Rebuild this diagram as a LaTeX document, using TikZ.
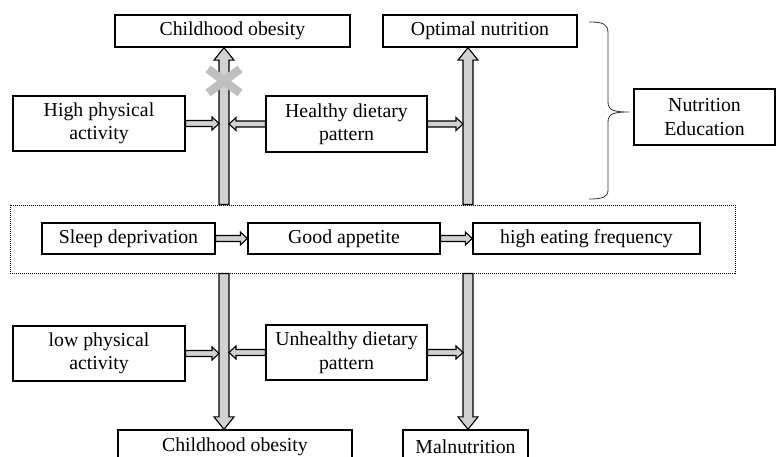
\documentclass[tikz,border=0pt]{standalone}
\usepackage{fontspec}
\setmainfont{Liberation Serif}
\usetikzlibrary{calc}
\tikzset{
  box/.style={draw, line width=1.3pt, fill=white, align=center, inner sep=0pt,
    font=\fontsize{19.8}{23.5}\selectfont},
  blk/.style={draw, line width=1.1pt, fill=black!18, line join=miter},
  dotbox/.style={draw, line width=0.9pt, dash pattern=on 1pt off 1pt, inner sep=0pt},
  brace/.style={draw, line width=0.8pt, black!80},
  cross/.style={line width=8.5pt, black!25},
}
\newcommand\blockarrow[5]{% from, to, half shaft, half head, head length
  \coordinate (ba) at #1;
  \coordinate (bb) at #2;
  \coordinate (bh) at ($(bb)!#5!(ba)$);
  \path[blk] ($(ba)!#3!90:(bb)$) -- ($(bh)!#3!90:(bb)$) -- ($(bh)!#4!90:(bb)$) -- (bb)
    -- ($(bh)!#4!-90:(bb)$) -- ($(bh)!#3!-90:(bb)$) -- ($(ba)!#3!-90:(bb)$) -- cycle;
}
\newcommand\varrow[2]{\blockarrow{#1}{#2}{5pt}{10pt}{12.5pt}}
\newcommand\harrow[2]{\blockarrow{#1}{#2}{3pt}{6.5pt}{7pt}}
\begin{document}
\begin{tikzpicture}[x=1pt, y=-1pt]
\useasboundingbox (0,0) rectangle (776,457);
\clip (0,0) rectangle (776,457);
% top row
\node[box, minimum width=235pt, minimum height=32pt] (co1) at (232.5,31) {Childhood obesity};
\node[box, minimum width=194pt, minimum height=32pt] (opt) at (480,31) {Optimal nutrition};
\node[box, minimum width=172pt, minimum height=55pt] (hpa) at (99,123.5) {High physical\\activity};
\node[box, minimum width=161pt, minimum height=56pt] (hdp) at (346.5,124) {Healthy dietary\\pattern};
\node[box, minimum width=141pt, minimum height=56pt] (ne) at (704.5,117) {Nutrition\\Education};
% middle
\node[dotbox, minimum width=725pt, minimum height=68pt] (mid) at (372.5,239) {};
\node[box, minimum width=173pt, minimum height=31pt] (sd) at (128.5,238.5) {Sleep deprivation};
\node[box, minimum width=192pt, minimum height=31pt] (ga) at (344,238.5) {Good appetite};
\node[box, minimum width=227pt, minimum height=31pt] (hef) at (586.5,238.5) {high eating frequency};
% bottom
\node[box, minimum width=172pt, minimum height=55pt] (lpa) at (99,353.5) {low physical\\activity};
\node[box, minimum width=161pt, minimum height=55pt] (udp) at (346.5,352.5) {Unhealthy dietary\\pattern};
\node[box, minimum width=234pt, minimum height=34pt] (co2) at (235,447) {Childhood obesity};
\node[box, minimum width=125pt, minimum height=34pt] (mal) at (465.5,447) {Malnutrition};
% columns
\coordinate (L) at (224,0);
\coordinate (R) at (468,0);
% vertical arrows
\varrow{(L |- mid.north)}{(L |- co1.south)}
\varrow{(R |- mid.north)}{(R |- opt.south)}
\varrow{(L |- mid.south)}{(L |- co2.north)}
\varrow{(R |- mid.south)}{(R |- mal.north)}
% horizontal arrows
\harrow{(hpa.east)}{($(L |- hpa.east)+(-5,0)$)}
\harrow{(hdp.west)}{($(L |- hdp.west)+(5,0)$)}
\harrow{(hdp.east)}{($(R |- hdp.east)+(-5,0)$)}
\harrow{(sd.east)}{(ga.west)}
\harrow{(ga.east)}{(hef.west)}
\harrow{(lpa.east)}{($(L |- lpa.east)+(-5,0)$)}
\harrow{(udp.west)}{($(L |- udp.west)+(5,0)$)}
\harrow{(udp.east)}{($(R |- udp.east)+(-5,0)$)}
% cross
\coordinate (X) at (224,81);
\draw[cross] ($(X)+(-16,-12)$) -- ($(X)+(16,12)$);
\draw[cross] ($(X)+(-16,12)$) -- ($(X)+(16,-12)$);
% brace
\coordinate (bt) at (589,22);
\coordinate (btip) at (629,112);
\coordinate (bbot) at (589,199);
\draw[brace] (bt) .. controls (603,22) and (608,24) .. (608,33) -- (608,102)
  .. controls (608,110) and (613,112) .. (btip)
  .. controls (613,112) and (608,114) .. (608,122) -- (608,190)
  .. controls (608,197) and (603,199) .. (bbot);
\end{tikzpicture}
\end{document}
